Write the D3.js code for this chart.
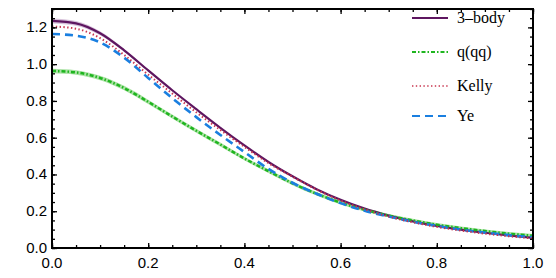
<!DOCTYPE html>
<html>
<head>
<meta charset="utf-8">
<script src="https://cdn.jsdelivr.net/npm/d3@7/dist/d3.min.js"></script>
<style>
  html, body { margin: 0; padding: 0; background: #fff; }
  svg { display: block; }
</style>
</head>
<body>
<div id="chart"></div>
<script>
// values
const xs        = [0, 0.05, 0.1, 0.15, 0.2, 0.25, 0.3, 0.35, 0.4, 0.45, 0.5, 0.55, 0.6, 0.65, 0.7, 0.75, 0.8, 0.85, 0.9, 0.95, 1.0];
const threeBody = [1.235, 1.222, 1.168, 1.075, 0.966, 0.858, 0.755, 0.654, 0.558, 0.468, 0.39, 0.32, 0.262, 0.214, 0.176, 0.145, 0.12, 0.1, 0.083, 0.068, 0.055];
const threeBodyErr = [0.014, 0.013, 0.011, 0.008, 0.006, 0.004, 0.003, 0.002, 0.002, 0.002, 0.002, 0.002, 0.002, 0.002, 0.002, 0.002, 0.002, 0.002, 0.002, 0.002, 0.002];
const qqq       = [0.963, 0.955, 0.925, 0.87, 0.795, 0.715, 0.638, 0.563, 0.487, 0.418, 0.352, 0.295, 0.247, 0.208, 0.176, 0.15, 0.127, 0.108, 0.092, 0.078, 0.067];
const qqqErr    = [0.012, 0.012, 0.012, 0.012, 0.012, 0.011, 0.011, 0.011, 0.01, 0.01, 0.01, 0.01, 0.01, 0.009, 0.009, 0.009, 0.009, 0.009, 0.009, 0.009, 0.009];
const kelly     = [1.205, 1.193, 1.142, 1.05, 0.943, 0.84, 0.738, 0.642, 0.55, 0.462, 0.388, 0.318, 0.258, 0.21, 0.171, 0.14, 0.115, 0.095, 0.078, 0.064, 0.052];
const ye        = [1.164, 1.155, 1.118, 1.035, 0.925, 0.815, 0.712, 0.615, 0.522, 0.43, 0.355, 0.295, 0.244, 0.203, 0.171, 0.143, 0.12, 0.1, 0.084, 0.07, 0.058];

const xTicks = [0, 0.2, 0.4, 0.6, 0.8, 1.0];
const yTicks = [0, 0.2, 0.4, 0.6, 0.8, 1.0, 1.2];
const legendNames = ['3\u2013body', 'q(qq)', 'Kelly', 'Ye'];

const width = 556;
const height = 278;
const padLeft = 52, padRight = 533, padTop = 9, padBottom = 248;

const xScale = d3.scaleLinear().domain([0, 1]).range([padLeft, padRight]);
const yScale = d3.scaleLinear().domain([0, 1.3]).range([padBottom, padTop]);

const svg = d3.select('#chart')
  .append('svg')
  .attr('width', width)
  .attr('height', height);

svg.append('clipPath').attr('id', 'plot-clip')
  .append('rect')
  .attr('x', padLeft).attr('y', padTop)
  .attr('width', padRight - padLeft).attr('height', padBottom - padTop);

const plot = svg.append('g').attr('clip-path', 'url(#plot-clip)');

const line = ys => d3.line()
  .x((d, i) => xScale(xs[i]))
  .y(d => yScale(d))
  .curve(d3.curveMonotoneX)(ys);

const band = (ys, err) => d3.area()
  .x((d, i) => xScale(xs[i]))
  .y0((d, i) => yScale(d - err[i]))
  .y1((d, i) => yScale(d + err[i]))
  .curve(d3.curveMonotoneX)(ys);

const series = [
  { name: legendNames[0], data: threeBody, color: '#5e1660', width: 2.2, dash: null },
  { name: legendNames[1], data: qqq, color: '#1fb51f', width: 2.5, dash: '4,2,1.5,2' },
  { name: legendNames[2], data: kelly, color: '#c8344e', width: 2, dash: '1.4,2.4' },
  { name: legendNames[3], data: ye, color: '#1a7fe0', width: 2.6, dash: '8,5' }
];

// error bands
plot.append('path')
  .attr('d', band(qqq, qqqErr))
  .attr('fill', '#a9e2a3');
plot.append('path')
  .attr('d', band(threeBody, threeBodyErr))
  .attr('fill', 'rgba(140,80,150,0.35)');

// draw order: 3-body, q(qq), Ye, Kelly
[series[0], series[1], series[3], series[2]].forEach(s => {
  plot.append('path')
    .attr('d', line(s.data))
    .attr('fill', 'none')
    .attr('stroke', s.color)
    .attr('stroke-width', s.width)
    .attr('stroke-dasharray', s.dash);
});

// frame with inward ticks
const minorX = d3.range(0, 1.0001, 0.05);
const minorY = d3.range(0, 1.30001, 0.05);

const axisG = svg.append('g');

axisG.append('g').attr('transform', `translate(0,${padBottom})`)
  .call(d3.axisBottom(xScale).tickValues(minorX).tickSize(-3).tickFormat(''));
axisG.append('g').attr('transform', `translate(0,${padTop})`)
  .call(d3.axisTop(xScale).tickValues(minorX).tickSize(-3).tickFormat(''));
axisG.append('g').attr('transform', `translate(${padLeft},0)`)
  .call(d3.axisLeft(yScale).tickValues(minorY).tickSize(-3).tickFormat(''));
axisG.append('g').attr('transform', `translate(${padRight},0)`)
  .call(d3.axisRight(yScale).tickValues(minorY).tickSize(-3).tickFormat(''));

axisG.append('g').attr('transform', `translate(0,${padBottom})`)
  .call(d3.axisBottom(xScale).tickValues(xTicks).tickSize(-5).tickFormat(''));
axisG.append('g').attr('transform', `translate(0,${padTop})`)
  .call(d3.axisTop(xScale).tickValues(xTicks).tickSize(-5).tickFormat(''));
axisG.append('g').attr('transform', `translate(${padLeft},0)`)
  .call(d3.axisLeft(yScale).tickValues(yTicks).tickSize(-5).tickFormat(''));
axisG.append('g').attr('transform', `translate(${padRight},0)`)
  .call(d3.axisRight(yScale).tickValues(yTicks).tickSize(-5).tickFormat(''));

axisG.selectAll('.domain').remove();
axisG.selectAll('.tick line').attr('stroke', '#000').attr('stroke-width', 1.3);

svg.append('rect')
  .attr('x', padLeft).attr('y', padTop)
  .attr('width', padRight - padLeft).attr('height', padBottom - padTop)
  .attr('fill', 'none')
  .attr('stroke', '#000')
  .attr('stroke-width', 2);

// tick labels
const sansFont = '"Liberation Sans", Arial, "DejaVu Sans", sans-serif';
const serifFont = '"Liberation Serif", "Times New Roman", "DejaVu Serif", serif';

svg.selectAll('.xlab')
  .data(xTicks)
  .enter()
  .append('text')
  .attr('font-family', sansFont)
  .attr('font-size', 15)
  .attr('fill', '#000')
  .attr('x', d => xScale(d))
  .attr('y', padBottom + 20)
  .attr('text-anchor', 'middle')
  .text(d => d3.format('.1f')(d));

svg.selectAll('.ylab')
  .data(yTicks)
  .enter()
  .append('text')
  .attr('font-family', sansFont)
  .attr('font-size', 15)
  .attr('fill', '#000')
  .attr('x', padLeft - 5)
  .attr('y', d => yScale(d) + 5)
  .attr('text-anchor', 'end')
  .text(d => d3.format('.1f')(d));

// legend
const legendY = [18, 52, 86, 116];
const legend = svg.append('g').attr('id', 'legend');
series.forEach((s, i) => {
  legend.append('line')
    .attr('x1', 412).attr('x2', 448)
    .attr('y1', legendY[i]).attr('y2', legendY[i])
    .attr('stroke', s.color)
    .attr('stroke-width', s.name === 'Kelly' ? 1.6 : 1.8)
    .attr('stroke-dasharray', s.dash);
  legend.append('text')
    .attr('font-family', serifFont)
    .attr('font-size', 16)
    .attr('fill', '#000')
    .attr('x', 457)
    .attr('y', legendY[i] + 5)
    .text(s.name);
});
</script>
</body>
</html>
